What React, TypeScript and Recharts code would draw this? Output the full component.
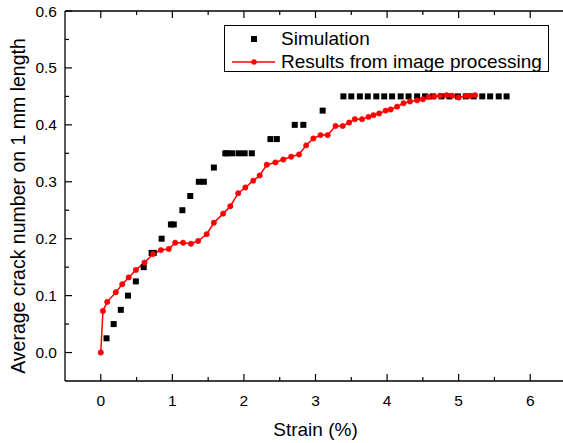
import { ComposedChart, Line, Scatter, XAxis, YAxis, Legend } from 'recharts'

const FONT = '"Liberation Sans", Arial, Helvetica, sans-serif'

const simName = 'Simulation'
const imgName = 'Results from image processing'

// Simulation (black squares)
const simX = [0.08, 0.18, 0.28, 0.38, 0.49, 0.60, 0.71, 0.74, 0.85, 0.98, 1.02, 1.14, 1.25, 1.37, 1.44, 1.58,
  1.74, 1.77, 1.84, 1.93, 2.01, 2.11, 2.37, 2.46, 2.71, 2.83, 3.10,
  3.39, 3.50, 3.62, 3.73, 3.85, 3.96, 4.07, 4.19, 4.30, 4.42, 4.53, 4.64, 4.76, 4.87, 4.99, 5.10, 5.21, 5.33, 5.44, 5.56, 5.67]
const simY = [0.025, 0.05, 0.075, 0.1, 0.125, 0.15, 0.175, 0.175, 0.2, 0.225, 0.225, 0.25, 0.275, 0.3, 0.3, 0.325,
  0.35, 0.35, 0.35, 0.35, 0.35, 0.35, 0.375, 0.375, 0.4, 0.4, 0.425,
  0.45, 0.45, 0.45, 0.45, 0.45, 0.45, 0.45, 0.45, 0.45, 0.45, 0.45, 0.45, 0.45, 0.45, 0.45, 0.45, 0.45, 0.45, 0.45, 0.45, 0.45]

// Results from image processing (red line + dots)
const imgX = [0, 0.03, 0.09, 0.21, 0.30, 0.39, 0.49, 0.61, 0.73, 0.84, 0.95, 1.04, 1.15, 1.26, 1.36, 1.48, 1.58, 1.71, 1.81, 1.92,
  2.02, 2.13, 2.22, 2.32, 2.44, 2.55, 2.66, 2.77, 2.87, 2.97, 3.07, 3.17, 3.28, 3.38, 3.47, 3.55, 3.65, 3.74, 3.81, 3.89,
  3.98, 4.05, 4.14, 4.23, 4.32, 4.42, 4.50, 4.58, 4.66, 4.74, 4.83, 4.91, 5.00, 5.10, 5.16, 5.23]
const imgY = [0, 0.073, 0.089, 0.106, 0.120, 0.132, 0.145, 0.158, 0.173, 0.180, 0.182, 0.193, 0.193, 0.191, 0.196, 0.208, 0.228, 0.244, 0.257, 0.280,
  0.290, 0.302, 0.311, 0.330, 0.334, 0.339, 0.344, 0.348, 0.364, 0.376, 0.382, 0.382, 0.398, 0.398, 0.404, 0.410, 0.410, 0.414, 0.417, 0.420,
  0.425, 0.427, 0.432, 0.438, 0.441, 0.443, 0.445, 0.449, 0.450, 0.451, 0.452, 0.451, 0.448, 0.451, 0.451, 0.452]

const xMajor = [0, 1, 2, 3, 4, 5, 6]
const xTicks = [0, 0.5, 1, 1.5, 2, 2.5, 3, 3.5, 4, 4.5, 5, 5.5, 6]
const yMajor = [0, 0.1, 0.2, 0.3, 0.4, 0.5, 0.6]
const yTicks = [0, 0.05, 0.1, 0.15, 0.2, 0.25, 0.3, 0.35, 0.4, 0.45, 0.5, 0.55, 0.6]

const simData = simX.map((x, i) => ({ x, y: simY[i] }))
const imgData = imgX.map((x, i) => ({ x, y: imgY[i] }))

const isMajor = (list: number[], v: number) => list.some((m) => Math.abs(m - v) < 1e-9)

// ticks point inward, like Origin's default
function BottomTick(props: any) {
  const { x, y, payload } = props
  const major = isMajor(xMajor, payload.value)
  const len = major ? 7 : 4
  return (
    <g>
      <path d={`M${x},${y}V${y - len}`} stroke="#000" strokeWidth={1.2} fill="none" />
      {major && (
        <text x={x} y={y + 25} textAnchor="middle" fontSize={15.5} fontFamily={FONT} fill="#000">{payload.value}</text>
      )}
    </g>
  )
}

function TopTick(props: any) {
  const { x, y, payload } = props
  const major = isMajor(xMajor, payload.value)
  const len = major ? 7 : 4
  return <path d={`M${x},${y}V${y + len}`} stroke="#000" strokeWidth={1.2} fill="none" />
}

function LeftTick(props: any) {
  const { x, y, payload } = props
  const major = isMajor(yMajor, payload.value)
  const len = major ? 7 : 4
  return (
    <g>
      <path d={`M${x},${y}H${x + len}`} stroke="#000" strokeWidth={1.2} fill="none" />
      {major && (
        <text x={x - 8} y={y + 5.5} textAnchor="end" fontSize={15.5} fontFamily={FONT} fill="#000">{payload.value.toFixed(1)}</text>
      )}
    </g>
  )
}

function Square({ cx, cy }: any) {
  return <rect x={cx - 3} y={cy - 3} width={6} height={6} fill="#000" />
}

function LegendBox() {
  const rows = [
    { name: simName, kind: 'square' },
    { name: imgName, kind: 'line' },
  ]
  return (
    <div style={{ width: 323, height: 45, border: '1px solid #000', background: '#fff', position: 'relative', fontFamily: FONT, fontSize: 19, color: '#000' }}>
      {rows.map((r, i) => (
        <div key={r.name} style={{ position: 'absolute', left: 0, top: 2 + i * 22.5, height: 22, display: 'flex', alignItems: 'center', whiteSpace: 'nowrap' }}>
          <svg width={52} height={22} style={{ marginLeft: 3 }}>
            {r.kind === 'square' ? (
              <rect x={23} y={8} width={6} height={6} fill="#000" />
            ) : (
              <g>
                <line x1={4} x2={47} y1={11} y2={11} stroke="#f00" strokeWidth={1.5} />
                <circle cx={26} cy={11} r={2.7} fill="#f00" />
              </g>
            )}
          </svg>
          <span style={{ marginLeft: 1, lineHeight: '22px' }}>{r.name}</span>
        </div>
      ))}
    </div>
  )
}

export default function App() {
  return (
    <div style={{ position: 'absolute', left: 0, top: 0, width: 563, height: 443, overflow: 'hidden', background: '#fff' }}>
      <ComposedChart width={580} height={443} margin={{ top: 10, right: 14, bottom: 0, left: 0 }}>
        <XAxis
          dataKey="x"
          type="number"
          domain={[-0.5, 6.5]}
          ticks={xTicks}
          interval={0}
          height={62}
          tickSize={0}
          tickMargin={0}
          tickLine={false}
          tick={(p: any) => <BottomTick {...p} />}
          axisLine={{ stroke: '#000', strokeWidth: 1.3 }}
          allowDataOverflow
          label={({ viewBox }: any) => (
            <text x={viewBox.x + viewBox.width / 2} y={viewBox.y + 55} textAnchor="middle" fontSize={19} fontFamily={FONT} fill="#000">Strain (%)</text>
          )}
        />
        <XAxis
          xAxisId="top"
          orientation="top"
          dataKey="x"
          type="number"
          domain={[-0.5, 6.5]}
          ticks={xTicks}
          interval={0}
          height={1}
          tickSize={0}
          tickMargin={0}
          tickLine={false}
          tick={(p: any) => <TopTick {...p} />}
          axisLine={{ stroke: '#000', strokeWidth: 1.3 }}
          allowDataOverflow
        />
        <YAxis
          dataKey="y"
          type="number"
          domain={[-0.05, 0.6]}
          ticks={yTicks}
          interval={0}
          width={65}
          tickSize={0}
          tickMargin={0}
          tickLine={false}
          tick={(p: any) => <LeftTick {...p} />}
          axisLine={{ stroke: '#000', strokeWidth: 1.3 }}
          allowDataOverflow
          label={({ viewBox }: any) => {
            const cx = viewBox.x + 25
            const cy = viewBox.y + viewBox.height / 2 + 10
            return (
              <text x={cx} y={cy} transform={`rotate(-90, ${cx}, ${cy})`} textAnchor="middle" fontSize={19.5} fontFamily={FONT} fill="#000">
                Average crack number on 1 mm length
              </text>
            )
          }}
        />
        <Legend
          layout="horizontal"
          verticalAlign="middle"
          align="center"
          content={() => <LegendBox />}
          wrapperStyle={{ left: 224, top: 25, width: 325, height: 47 }}
        />
        <Scatter name={simName} data={simData} dataKey="y" fill="#000" shape={<Square />} isAnimationActive={false} />
        <Line
          name={imgName}
          data={imgData}
          dataKey="y"
          type="linear"
          stroke="#f00"
          strokeWidth={1.5}
          dot={{ r: 2.7, fill: '#f00', stroke: '#f00', strokeWidth: 0.5 }}
          activeDot={false}
          isAnimationActive={false}
        />
      </ComposedChart>
    </div>
  )
}
